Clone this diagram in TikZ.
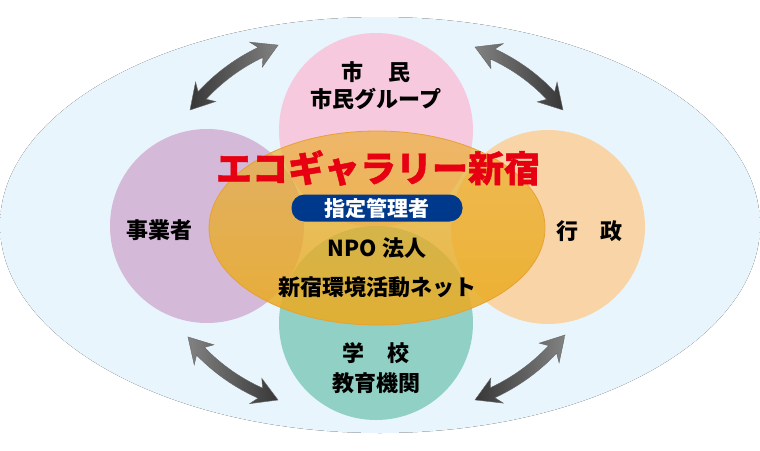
\documentclass[tikz,border=0pt]{standalone}
\usepackage{fontspec}
\newfontfamily\jp{Noto Sans CJK JP}
\newfontfamily\jpheavy{Noto Sans CJK JP}[BoldFeatures={FakeBold=1.2}]
\usetikzlibrary{arrows.meta,fadings}
\definecolor{bgin}{RGB}{232,245,252}
\definecolor{bgout}{RGB}{215,237,249}
\definecolor{bgedge}{RGB}{226,242,250}
\definecolor{cpink}{RGB}{246,201,222}
\definecolor{cpurple}{RGB}{212,185,217}
\definecolor{corange}{RGB}{249,212,166}
\definecolor{cgreen}{RGB}{145,208,196}
\definecolor{cgold}{RGB}{234,172,36}
\definecolor{cline}{RGB}{232,160,50}
\definecolor{ered}{RGB}{230,0,18}
\definecolor{eblue}{RGB}{0,56,140}
\definecolor{adark}{RGB}{55,55,55}
\definecolor{amid}{RGB}{22,22,22}
\definecolor{alight}{RGB}{130,130,130}
\pgfdeclareradialshading{bgsh}{\pgfpoint{0bp}{0bp}}{color(0bp)=(bgin); color(28bp)=(bgin); color(45bp)=(bgout); color(49bp)=(bgout); color(50bp)=(bgedge)}
\tikzfading[name=cfade, top color=transparent!38, middle color=transparent!3, bottom color=transparent!10]
\tikzset{
  circ/.style={circle, minimum size=194pt, inner sep=0pt},
  lbl/.style={font=\jp\bfseries\fontsize{22}{22}\selectfont, inner sep=0pt, text=black},
}
% #1 start coordinate, #2 direction angle, #3 chord length, #4 start colour, #5 end colour
\newcommand\fatarrow[5]{%
\begin{scope}[shift={(#1)}, rotate=#2, yscale=-1]
\pgfmathsetmacro\myLh{#3/2}
\pgfmathsetmacro\myR{(\myLh*\myLh+64)/16}
\pgfmathsetmacro\myCy{8-\myR}
\pgfmathsetmacro\myTh{asin(\myLh/\myR)}
\pgfmathsetmacro\myA{90+\myTh}
\pgfmathsetmacro\myB{90-\myTh}
\pgfmathsetmacro\myDh{19/\myR*180/pi}
\pgfmathsetmacro\myDb{24/\myR*180/pi}
\pgfmathsetmacro\myRo{\myR+5.5}
\pgfmathsetmacro\myRi{\myR-5.5}
\pgfmathsetmacro\myRbo{\myR+14}
\pgfmathsetmacro\myRbi{\myR-14}
\path[left color=#4, middle color=amid, right color=#5, draw=black!60, line width=0.4pt, shift={(\myLh,\myCy)}]
 (\myA:\myR) -- (\myA-\myDb:\myRbo) -- (\myA-\myDh:\myRo)
 arc[start angle=\myA-\myDh, end angle=\myB+\myDh, radius=\myRo]
 -- (\myB+\myDb:\myRbo) -- (\myB:\myR) -- (\myB+\myDb:\myRbi) -- (\myB+\myDh:\myRi)
 arc[start angle=\myB+\myDh, end angle=\myA-\myDh, radius=\myRi]
 -- (\myA-\myDb:\myRbi) -- cycle;
\end{scope}}
\begin{document}
\begin{tikzpicture}[x=1pt,y=-1pt]
\useasboundingbox (0,0) rectangle (760,450);
% background
\fill[shading=bgsh] (380,225) ellipse [x radius=380pt, y radius=208pt];
% four circles
\node[circ, fill=cpink]   (citizen)  at (376,130) {};
\node[circ, fill=cpurple] (business) at (207,226) {};
\node[circ, fill=corange] (gov)      at (548,227) {};
\node[circ, fill=cgreen]  (school)   at (376,323) {};
% central ellipse
\fill[cgold, path fading=cfade] (377,228) ellipse [x radius=168pt, y radius=97pt];
\draw[cline, line width=0.8pt] (377,228) ellipse [x radius=168pt, y radius=97pt];
% arrows
\coordinate (tl) at (190,110);
\coordinate (tr) at (475,47);
\coordinate (bl) at (278,400);
\coordinate (br) at (565,335);
\fatarrow{tl}{36.4}{109.4}{adark}{alight}
\fatarrow{tr}{-35.6}{108.2}{alight}{adark}
\fatarrow{bl}{145}{109.9}{alight}{adark}
\fatarrow{br}{215.8}{111.0}{adark}{alight}
% texts
\node[lbl] (t1) at (376,72) {市\hspace{0.15em}　民};
\node[lbl] (t2) at (376,99) {市民グループ};
\node[lbl] (t3) at (159,230) {事業者};
\node[lbl] (t4) at (589,231) {行　政};
\node[lbl] (t5) at (376,353) {学\hspace{0.05em}　校};
\node[lbl] (t6) at (376,383) {教育機関};
\node[font=\jpheavy\bfseries\fontsize{36}{36}\selectfont, text=ered, inner sep=0pt] (title) at (378,168) {エコギャラリー新宿};
\node[fill=eblue, rounded corners=13pt, minimum width=171pt, minimum height=27pt, inner sep=0pt,
      text=white, font=\jp\bfseries\fontsize{21}{21}\selectfont] (mgr) at (377,208) {指定管理者};
\node[lbl] (npo) at (377,248) {NPO 法人};
\node[lbl] (net) at (377,287) {新宿環境活動ネット};
\end{tikzpicture}
\end{document}
